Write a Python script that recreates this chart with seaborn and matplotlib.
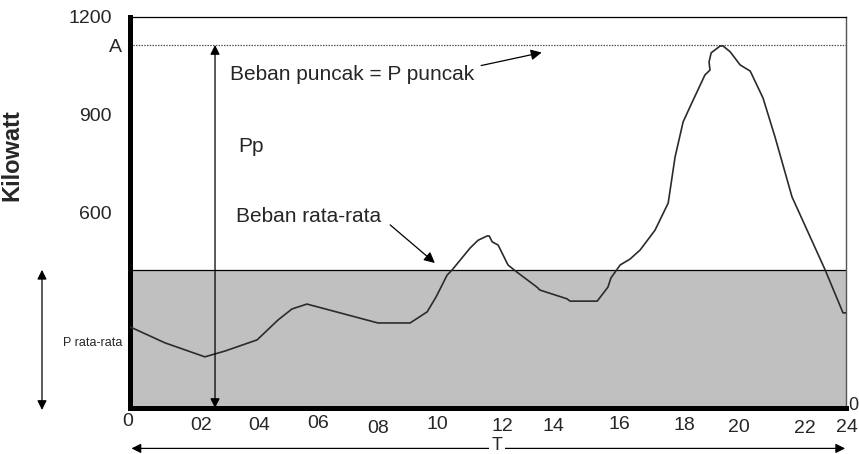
import matplotlib
matplotlib.use("Agg")
import matplotlib.pyplot as plt
import seaborn as sns
import pandas as pd

# load curve (hour of day, kilowatt)
hours = [0, 1.17, 2.51, 3.19, 4.26, 4.96, 5.43, 5.93, 8.31, 9.39, 9.96, 10.26,
         10.63, 10.80, 11.40, 11.67, 11.97, 12.04, 12.14, 12.34, 12.67, 12.97,
         13.64, 13.74, 14.65, 14.75, 15.66, 16.02, 16.12, 16.43, 16.76, 17.10,
         17.60, 18.04, 18.27, 18.54, 18.77, 19.27, 19.44, 19.41, 19.48, 19.78,
         19.88, 20.12, 20.45, 20.79, 21.22, 21.62, 22.19, 23.30, 23.90, 24.0]
load_kw = [249, 200, 157, 175, 209, 270, 304, 319, 261, 261, 295, 341,
           408, 424, 491, 515, 528, 528, 510, 500, 439, 417,
           371, 362, 335, 328, 328, 371, 399, 439, 457, 485,
           546, 629, 770, 878, 924, 1022, 1037, 1062, 1090, 1111,
           1111, 1093, 1053, 1034, 951, 832, 648, 424, 292, 292]

peak_kw = 1114
avg_kw = 424

# hour tick labels, placed a bit irregularly like the original
xtick_labels = ["0", "02", "04", "06", "08", "10", "12", "14", "16", "18", "20", "22", "24"]
xtick_pos = [-0.07, 2.40, 4.34, 6.29, 8.31, 10.29, 12.47, 14.18, 16.42, 18.57, 20.41, 22.63, 24.02]
xtick_y = [-41, -55, -55, -47, -62, -52, -58, -58, -50, -54, -60, -64, -61]
yticks = [600, 900, 1200]

df = pd.DataFrame({"Jam": hours, "Kilowatt": load_kw})

sns.set_style("white")
plt.rcParams["font.family"] = ["Liberation Sans", "DejaVu Sans"]

fig = plt.figure(figsize=(8.59, 4.54), dpi=100)
ax = fig.add_axes([130 / 859, 46 / 454, 716 / 859, 391 / 454])

# average load block
ax.fill_between([min(hours), max(hours)], 0, avg_kw, color="#c0c0c0", lw=0, zorder=1)
ax.axhline(avg_kw, color="black", lw=0.9, zorder=2)
# peak level
ax.axhline(peak_kw, color="#555555", lw=0.9, ls=(0, (1.2, 1.0)), zorder=2)

sns.lineplot(data=df, x="Jam", y="Kilowatt", sort=False, estimator=None,
             color="#2b2b2b", lw=1.2, ax=ax, zorder=3)

ax.set_xlim(0, 24)
ax.set_ylim(0, 1200)

# spines
for s in ["left", "bottom"]:
    ax.spines[s].set_color("black")
    ax.spines[s].set_linewidth(3.6)
ax.spines["top"].set_linewidth(0.9)
ax.spines["top"].set_color("black")
ax.spines["right"].set_linewidth(1.0)
ax.spines["right"].set_color("#555555")

ax.set_yticks(yticks)
ax.set_yticklabels([str(v) for v in yticks], fontsize=14)
ax.tick_params(axis="y", length=0, pad=13)
ax.set_xticks([])
ax.set_xlabel("")
ax.set_ylabel("Kilowatt", fontsize=17, fontweight="bold")
ax.yaxis.set_label_coords(-0.149, 0.647)

for lab, xp, yp in zip(xtick_labels, xtick_pos, xtick_y):
    ax.text(xp, yp, lab, fontsize=14, ha="center", va="center", clip_on=False)

ax.text(-0.27, 1106, "A", fontsize=14, ha="right", va="center", clip_on=False)
# small "0" at the right end of the time axis
fig.text(858 / 859, 1 - 406 / 454, "0", fontsize=13, ha="right", va="center")

# vertical double arrow for Pp
ax.annotate("", xy=(2.85, peak_kw), xytext=(2.85, 0),
            arrowprops=dict(arrowstyle="<|-|>", color="black", lw=0.9,
                            mutation_scale=14, shrinkA=0, shrinkB=0), zorder=4)
# double arrow on the left for P rata-rata
ax.annotate("", xy=(-2.95, avg_kw), xytext=(-2.95, -6), annotation_clip=False,
            arrowprops=dict(arrowstyle="<|-|>", color="black", lw=0.9,
                            mutation_scale=14, shrinkA=0, shrinkB=0))
ax.text(-2.25, 199, "P rata-rata", fontsize=9, ha="left", va="center", clip_on=False)

# T arrow below the axis
ax.annotate("", xy=(0.05, -124), xytext=(23.97, -124), annotation_clip=False,
            arrowprops=dict(arrowstyle="<|-|>", color="black", lw=0.9,
                            mutation_scale=14, shrinkA=0, shrinkB=0))
fig.text(497 / 859, 1 - 446 / 454, "T", fontsize=13, ha="center", va="center",
         bbox=dict(facecolor="white", edgecolor="none", pad=1.5))

# labels and pointers
ax.text(3.35, 1022, "Beban puncak = P puncak", fontsize=15, ha="left", va="center")
ax.annotate("", xy=(13.80, 1091), xytext=(11.77, 1051),
            arrowprops=dict(arrowstyle="-|>", color="black", lw=0.9,
                            mutation_scale=16, shrinkA=0, shrinkB=0))
ax.text(3.62, 804, "Pp", fontsize=15, ha="left", va="center")
ax.text(3.55, 587, "Beban rata-rata", fontsize=15, ha="left", va="center")
ax.annotate("", xy=(10.22, 445), xytext=(8.72, 562),
            arrowprops=dict(arrowstyle="-|>", color="black", lw=0.9,
                            mutation_scale=16, shrinkA=0, shrinkB=0))

fig.savefig("out.png", dpi=100)
